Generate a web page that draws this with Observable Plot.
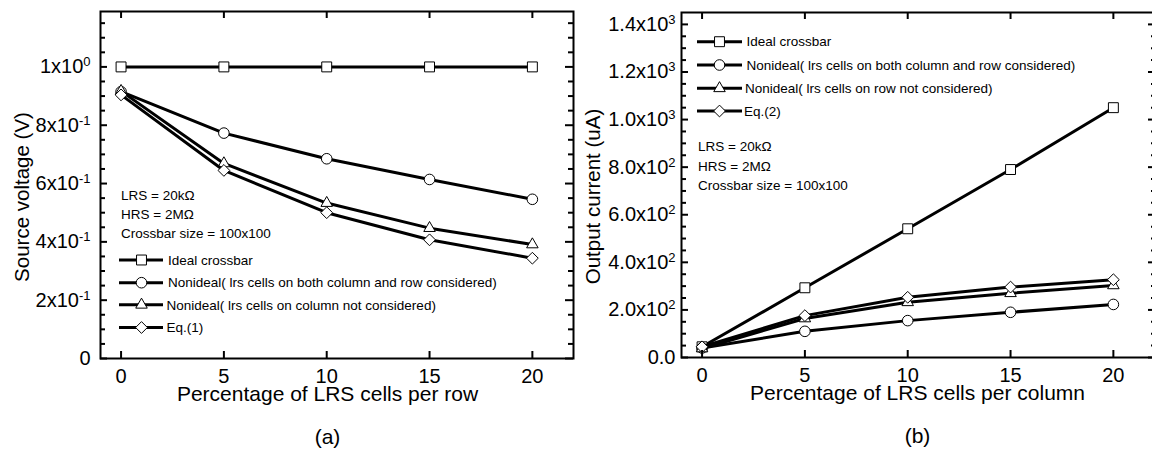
<!DOCTYPE html>
<html><head><meta charset="utf-8">
<script src="https://cdn.jsdelivr.net/npm/d3@7"></script>
<script src="https://cdn.jsdelivr.net/npm/@observablehq/plot@0.6"></script>
<style>
html,body{margin:0;padding:0;background:#fff;overflow:hidden;}
#wrap{position:relative;width:1152px;height:454px;overflow:hidden;background:#fff;}
#wrap svg{position:absolute;top:0;overflow:visible;}
</style></head><body><div id="wrap"></div>
<script>
// ---------- data ----------
const pct = [0, 5, 10, 15, 20];

// panel (a): source voltage (V)
const aIdeal = [1.0, 1.0, 1.0, 1.0, 1.0];
const aBoth  = [0.915, 0.773, 0.685, 0.614, 0.546];
const aCol   = [0.917, 0.669, 0.533, 0.447, 0.391];
const aEq    = [0.904, 0.645, 0.500, 0.407, 0.344];

// panel (b): output current (uA)
const bIdeal = [45, 293, 541, 790, 1050];
const bBoth  = [40, 110, 155, 190, 223];
const bRow   = [38, 164, 232, 270, 303];
const bEq    = [45, 176, 253, 296, 327];

const aLegend = ["Ideal crossbar", "Nonideal( lrs cells on both column and row considered)", "Nonideal( lrs cells on column not considered)", "Eq.(1)"];
const bLegend = ["Ideal crossbar", "Nonideal( lrs cells on both column and row considered)", "Nonideal( lrs cells on row not considered)", "Eq.(2)"];
const notes = ["LRS = 20k\u03A9", "HRS = 2M\u03A9", "Crossbar size = 100x100"];

const aMajorY = [0, 0.2, 0.4, 0.6, 0.8, 1.0];
const aMajorLabels = ["0", "2x10|-1", "4x10|-1", "6x10|-1", "8x10|-1", "1x10|0"];
const aMinorY = [0.05, 0.1, 0.15, 0.25, 0.3, 0.35, 0.45, 0.5, 0.55, 0.65, 0.7, 0.75, 0.85, 0.9, 0.95, 1.05, 1.1, 1.15];

const bMajorY = [0, 200, 400, 600, 800, 1000, 1200, 1400];
const bMajorLabels = ["0.0", "2.0x10|2", "4.0x10|2", "6.0x10|2", "8.0x10|2", "1.0x10|3", "1.2x10|3", "1.4x10|3"];
const bMinorY = [50, 100, 150, 250, 300, 350, 450, 500, 550, 650, 700, 750, 850, 900, 950, 1050, 1100, 1150, 1250, 1300, 1350];

const symbols = ["square", "circle", "triangle2", "diamond2"];
const symRadius = [5.6, 5.3, 5.5, 5.3];
const d3Sym = {square: d3.symbolSquare, circle: d3.symbolCircle, triangle2: d3.symbolTriangle2, diamond2: d3.symbolDiamond2};

const FONT = "'Liberation Sans', Arial, Helvetica, sans-serif";
const H = 454;
const TICK_FS = 20, SUP_FS = 13, YT_FS = 20.5, XT_FS = 21, LEG_FS = 13.5;

function panel(o) {
  const iw = o.width - o.ml - o.mr, ih = H - o.mt - o.mb;
  const marks = [];
  o.series.forEach((vals, s) => {
    const data = pct.map((x, i) => ({x, y: vals[i]}));
    marks.push(Plot.line(data, {x: "x", y: "y", stroke: "black", strokeWidth: 3}));
    marks.push(Plot.dot(data, {x: "x", y: "y", symbol: symbols[s], r: symRadius[s], fill: "white", stroke: "black", strokeWidth: 1}));
  });
  // inward ticks
  const tk = {stroke: "black", strokeWidth: 2};
  marks.push(Plot.tickY(o.yMinor, {y: d => d, insetRight: iw - o.ticks.lMin, ...tk}));
  marks.push(Plot.tickY(o.yMajor, {y: d => d, insetRight: iw - o.ticks.lMaj, ...tk}));
  marks.push(Plot.tickY(o.yMinor, {y: d => d, insetLeft: iw - o.ticks.rMin, ...tk}));
  marks.push(Plot.tickY(o.yMajor, {y: d => d, insetLeft: iw - o.ticks.rMaj, ...tk}));
  marks.push(Plot.tickX(pct, {x: d => d, insetTop: ih - 7, ...tk}));
  marks.push(Plot.tickX(pct, {x: d => d, insetBottom: ih - 7, ...tk}));
  marks.push(Plot.frame({stroke: "black", strokeWidth: 2}));
  // tick labels
  marks.push(Plot.axisY({ticks: o.yMajor, tickSize: 0, tickPadding: o.yPad, fontSize: TICK_FS, label: null,
    tickFormat: d => o.yLabels[o.yMajor.indexOf(d)]}));
  marks.push(Plot.axisX({ticks: pct, tickSize: 0, tickPadding: 10, fontSize: TICK_FS, label: null, tickFormat: d => String(d)}));
  // titles
  marks.push(Plot.text([o.yTitle], {text: d => d, frameAnchor: "left", textAnchor: "middle", rotate: -90, dx: o.yTitleDx, dy: o.yTitleDy, fontSize: YT_FS, lineAnchor: "middle"}));
  marks.push(Plot.text([o.xTitle], {text: d => d, frameAnchor: "bottom", textAnchor: "middle", dx: o.xTitleDx, dy: 36, fontSize: XT_FS, lineAnchor: "middle"}));
  marks.push(Plot.text([o.tag], {text: d => d, frameAnchor: "bottom", textAnchor: "middle", dx: o.xTitleDx, dy: 79, fontSize: XT_FS, lineAnchor: "middle"}));

  const svg = Plot.plot({
    width: o.width, height: H,
    marginLeft: o.ml, marginRight: o.mr, marginTop: o.mt, marginBottom: o.mb,
    x: {domain: [-1, 22]},
    y: {domain: o.yDomain},
    style: {fontFamily: FONT, color: "black", background: "white", overflow: "visible"},
    marks
  });

  // superscripts in tick labels
  d3.select(svg).selectAll('g[aria-label="y-axis tick label"] text').each(function() {
    const t = this.textContent;
    if (t.includes("|")) {
      const [base, sup] = t.split("|");
      const sel = d3.select(this);
      sel.text(null);
      sel.append("tspan").text(base);
      sel.append("tspan").attr("font-size", SUP_FS).attr("dy", -7).text(sup);
    }
  });

  // legend + notes
  const g = d3.select(svg).append("g").attr("font-family", FONT).attr("font-size", LEG_FS)
    .attr("fill", "black").attr("text-anchor", "start");
  o.legend.forEach((lab, i) => {
    const y = o.leg.ys[i];
    g.append("line").attr("x1", o.leg.x1).attr("x2", o.leg.x2).attr("y1", y).attr("y2", y)
      .attr("stroke", "black").attr("stroke-width", 3);
    const r = symRadius[i];
    g.append("path").attr("d", d3.symbol(d3Sym[symbols[i]], Math.PI * r * r)())
      .attr("transform", `translate(${o.leg.mx},${y})`).attr("fill", "white").attr("stroke", "black").attr("stroke-width", 1);
    g.append("text").attr("x", o.leg.tx[i]).attr("y", y).attr("dy", "0.35em").attr("text-anchor", "start").text(lab);
  });
  notes.forEach((n, i) => {
    g.append("text").attr("x", o.notes.x).attr("y", o.notes.ys[i]).attr("dy", "0.35em").attr("text-anchor", "start").text(n);
  });
  return svg;
}

const left = panel({
  width: 576, ml: 100, mr: 3, mt: 11, mb: 96,
  yDomain: [0, 1.19],
  series: [aIdeal, aBoth, aCol, aEq],
  yMajor: aMajorY, yMinor: aMinorY, yLabels: aMajorLabels, yPad: 10,
  ticks: {lMaj: 7, lMin: 5, rMaj: 8, rMin: 5},
  yTitle: "Source voltage (V)", yTitleDx: -78, yTitleDy: 12,
  xTitle: "Percentage of LRS cells per row", xTitleDx: -9.5,
  tag: "(a)",
  legend: aLegend,
  leg: {x1: 119, x2: 163, mx: 141.5, ys: [260, 282.7, 304.8, 327.5], tx: [168, 168, 166.5, 166.5]},
  notes: {x: 121, ys: [195, 214.5, 233.5]}
});
left.style.left = "0px";

const right = panel({
  width: 578, ml: 105, mr: 0, mt: 12, mb: 97,
  yDomain: [0, 1450],
  series: [bIdeal, bBoth, bRow, bEq],
  yMajor: bMajorY, yMinor: bMinorY, yLabels: bMajorLabels, yPad: 6,
  ticks: {lMaj: 7, lMin: 5, rMaj: 6, rMin: 3},
  yTitle: "Output current (uA)", yTitleDx: -88, yTitleDy: 11.5,
  xTitle: "Percentage of LRS cells per column", xTitleDx: -0.5,
  tag: "(b)",
  legend: bLegend,
  leg: {x1: 121, x2: 166, mx: 143.5, ys: [41.7, 65, 88.3, 111], tx: [170.5, 170.5, 169, 168]},
  notes: {x: 122, ys: [146.7, 166.7, 185.7]}
});
right.style.left = "576px";

const wrap = document.getElementById("wrap");
wrap.appendChild(left);
wrap.appendChild(right);
</script></body></html>
